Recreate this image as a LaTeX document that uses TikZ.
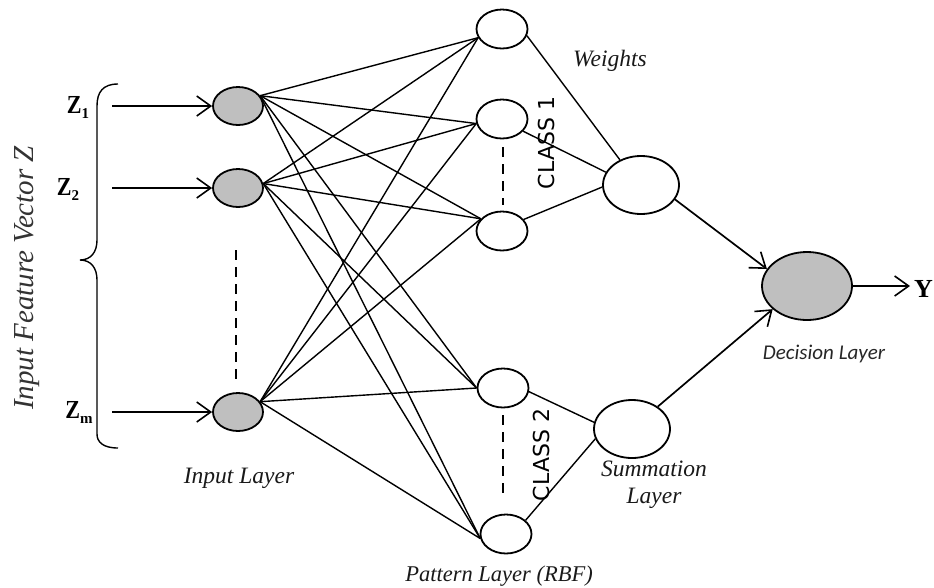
\documentclass[tikz,border=0pt]{standalone}
\usepackage{fontspec}
\newfontfamily\clsfont{DejaVu Sans}
\newfontfamily\decfont{Carlito Italic}
\newfontfamily\zfont{Liberation Serif}
\newfontfamily\labfont{Liberation Serif Italic}
\usetikzlibrary{arrows.meta,shapes.geometric}
\tikzset{
  neuron/.style={ellipse, draw, line width=1.8pt, inner sep=0pt},
  innode/.style={neuron, fill=black!25, minimum width=50pt, minimum height=38pt},
  patnode/.style={neuron, fill=white, minimum width=51pt, minimum height=39pt},
  sumnode/.style={neuron, fill=white, minimum width=76pt, minimum height=58pt},
  decnode/.style={neuron, fill=black!25, minimum width=90pt, minimum height=68pt},
  link/.style={line width=1.4pt},
  feed/.style={line width=1.7pt, -{Straight Barb[length=14pt,width=20pt,line width=1.6pt]}},
  gap/.style={line width=1.7pt, dash pattern=on 10pt off 7pt},
  lbl/.style={font=\fontsize{23.5}{27}\selectfont\labfont, inner sep=0pt, text=black!90},
  zlbl/.style={font=\fontsize{26}{28}\selectfont\zfont\bfseries, inner sep=0pt},
  cls/.style={font=\fontsize{22}{26}\selectfont\clsfont, rotate=90, inner sep=0pt}
}
\newcommand{\zsub}[1]{\raisebox{-5pt}{\fontsize{15}{16}\selectfont #1}}
\begin{document}
\begin{tikzpicture}[x=1pt,y=-1pt]
\useasboundingbox (0,0) rectangle (934,587);

% input layer
\node[innode] (i1) at (238,106) {};
\node[innode] (i2) at (238,188) {};
\node[innode] (im) at (238,412) {};

% pattern layer
\node[patnode] (p1) at (502,29) {};
\node[patnode] (p2) at (502,119) {};
\node[patnode] (p3) at (502,231) {};
\node[patnode] (p4) at (503,388) {};
\node[patnode] (p5) at (506,534) {};

% summation layer
\node[sumnode] (s1) at (641,185) {};
\node[sumnode] (s2) at (632,429) {};

% decision layer
\node[decnode] (d) at (807,286) {};

% inputs
\coordinate (z1s) at (112,106);
\coordinate (z2s) at (112,188);
\coordinate (zms) at (112,412);
\draw[feed] (z1s) -- (i1.west);
\draw[feed] (z2s) -- (i2.west);
\draw[feed] (zms) -- (im.west);

\node[zlbl] (z1) at (78,107) {\scalebox{0.85}[1]{Z}\zsub{1}};
\node[zlbl] (z2) at (68,189) {\scalebox{0.85}[1]{Z}\zsub{2}};
\node[zlbl] (zm) at (79,412) {\scalebox{0.85}[1]{Z}\zsub{m}};

% brace grouping the inputs
\draw[line width=1.4pt] (118,84) .. controls (103,84) and (97,92) .. (97,106)
  -- (97,240) .. controls (97,252) and (91,260) .. (80,260)
  .. controls (91,260) and (97,268) .. (97,280)
  -- (97,434) .. controls (97,442) and (103,448) .. (118,448);

\node[font=\fontsize{29}{32}\selectfont\labfont, rotate=90, inner sep=0pt, text=black!80] (vec) at (27,278) {Input Feature Vector Z};

% input -> pattern connections
\foreach \p/\a in {p1/200, p2/190, p3/150, p4/180, p5/190} {
  \draw[link] (i1.25) -- (\p.\a);
  \draw[link] (i2.10) -- (\p.\a);
  \draw[link] (im.25) -- (\p.\a);
}

% pattern -> summation
\draw[link] (p1.-15) -- (s1.130);
\draw[link] (p2.-30) -- (s1.160);
\draw[link] (p3.28) -- (s1.183);
\draw[link] (p4.-8) -- (s2.170);
\draw[link] (p5.35) -- (s2.195);

% summation -> decision -> output
\draw[feed] (s1.-23) -- (d.157);
\draw[feed] (s2.41) -- (d.214);
\coordinate (yout) at (910,286);
\draw[feed] (d.east) -- (yout);
\node[zlbl, anchor=east] (y) at (933,289) {Y};

% omitted neurons
\coordinate (ga) at (236,250);
\coordinate (gb) at (236,380);
\draw[gap] (ga) -- (gb);
\coordinate (gc) at (503,147);
\coordinate (gd) at (503,205);
\draw[gap] (gc) -- (gd);
\coordinate (ge) at (503,415);
\coordinate (gf) at (503,495);
\draw[gap] (ge) -- (gf);

% class labels
\node[cls] (c1) at (546,143) {CLASS 1};
\node[cls] (c2) at (541,455) {CLASS 2};

% layer labels
\node[lbl] (wt) at (610,61) {Weights};
\node[lbl] (il) at (239,478) {Input Layer};
\node[lbl, align=center] (sl) at (654,485) {Summation\\Layer};
\node[lbl, font=\fontsize{22.5}{26}\selectfont\labfont] (pl) at (499,576) {Pattern Layer (RBF)};
\node[font=\fontsize{21}{24}\selectfont\decfont, inner sep=0pt, text=black!85] (dl) at (824,354) {Decision Layer};
\end{tikzpicture}
\end{document}
